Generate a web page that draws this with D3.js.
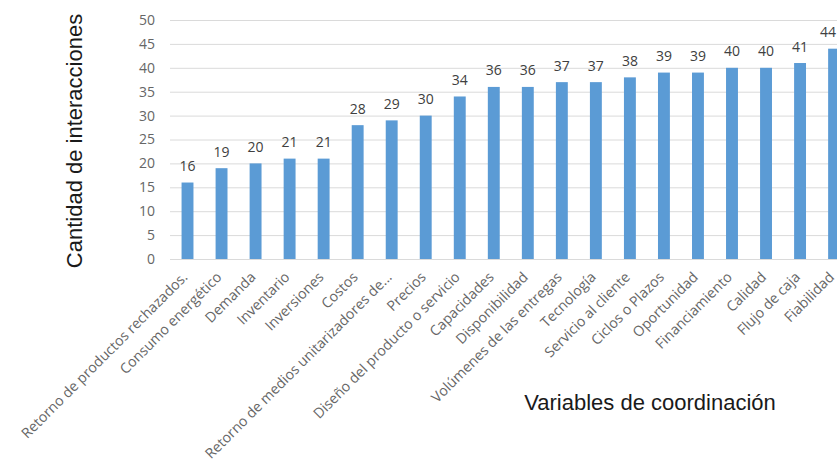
<!DOCTYPE html>
<html><head><meta charset="utf-8">
<script src="https://cdn.jsdelivr.net/npm/d3@7"></script>
<style>body{margin:0;background:#fff;overflow:hidden}</style>
</head><body>
<script>
const categories = ["Retorno de productos rechazados.","Consumo energético","Demanda","Inventario","Inversiones","Costos","Retorno de medios unitarizadores de...","Precios","Diseño del producto o servicio","Capacidades","Disponibilidad","Volúmenes de las entregas","Tecnología","Servicio al cliente","Ciclos o Plazos","Oportunidad","Financiamiento","Calidad","Flujo de caja","Fiabilidad"];
const values = [16,19,20,21,21,28,29,30,34,36,36,37,37,38,39,39,40,40,41,44];
const yTicks = [0,5,10,15,20,25,30,35,40,45,50];
const yTitle = "Cantidad de interacciones";
const xTitle = "Variables de coordinación";

const W = 837, H = 466;
const svg = d3.select("body").append("svg").attr("width", W).attr("height", H);
const x = d3.scaleBand().domain(categories).range([170.5, 170.5 + 20*34.03]).paddingInner(0.65).paddingOuter(0.325);
const y = d3.scaleLinear().domain([0,50]).range([259, 20]);
const cx = i => x(categories[i]) + x.bandwidth()/2;

// gridlines
svg.append("g").selectAll("line").data(yTicks).join("line")
  .attr("x1", 170).attr("x2", 900)
  .attr("y1", d => y(d) + 0.5).attr("y2", d => y(d) + 0.5)
  .attr("stroke", "#dadada").attr("stroke-width", 1);

// y axis labels
const yAxis = d3.axisLeft(y).tickValues(yTicks).tickSize(0).tickPadding(0);
const ga = svg.append("g").attr("transform", "translate(155,0)").call(yAxis);
ga.select(".domain").remove();
ga.selectAll("text").attr("font-family", "Open Sans, sans-serif").attr("font-size", 14).attr("fill", "#666");

// bars
svg.append("g").selectAll("rect").data(values).join("rect")
  .attr("x", (d,i) => x(categories[i]))
  .attr("width", x.bandwidth())
  .attr("y", d => y(d))
  .attr("height", d => y(0) - y(d))
  .attr("fill", "#5b9bd5");

// value labels (kept inside the picture)
svg.append("g").selectAll("text").data(values).join("text")
  .attr("y", d => y(d) - 11.5)
  .attr("text-anchor", "middle")
  .attr("font-family", "Open Sans, sans-serif").attr("font-size", 14).attr("fill", "#404040")
  .text(d => d)
  .each(function(d,i){
    const w = this.getComputedTextLength();
    d3.select(this).attr("x", Math.min(cx(i), W - 1 - w/2));
  });

// x tick labels
const xAxis = d3.axisBottom(x).tickSize(0).tickPadding(0);
const gx = svg.append("g").attr("transform", `translate(0,${y(0)})`).call(xAxis);
gx.select(".domain").remove();
gx.selectAll("text")
  .attr("font-family", "Open Sans, sans-serif").attr("font-size", 14.2).attr("fill", "#666")
  .attr("text-anchor", "end").attr("dy", null).attr("y", 0)
  .attr("transform", "translate(1,19) rotate(-45)");

// titles
svg.append("text").attr("transform", "translate(82,141) rotate(-90)")
  .attr("text-anchor", "middle").attr("font-family", "Liberation Sans, Arial, sans-serif")
  .attr("font-size", 22).attr("fill", "#1a1a1a").text(yTitle);
svg.append("text").attr("x", 650).attr("y", 410)
  .attr("text-anchor", "middle").attr("font-family", "Liberation Sans, Arial, sans-serif")
  .attr("font-size", 22).attr("fill", "#1a1a1a").text(xTitle);
</script>
</body></html>
